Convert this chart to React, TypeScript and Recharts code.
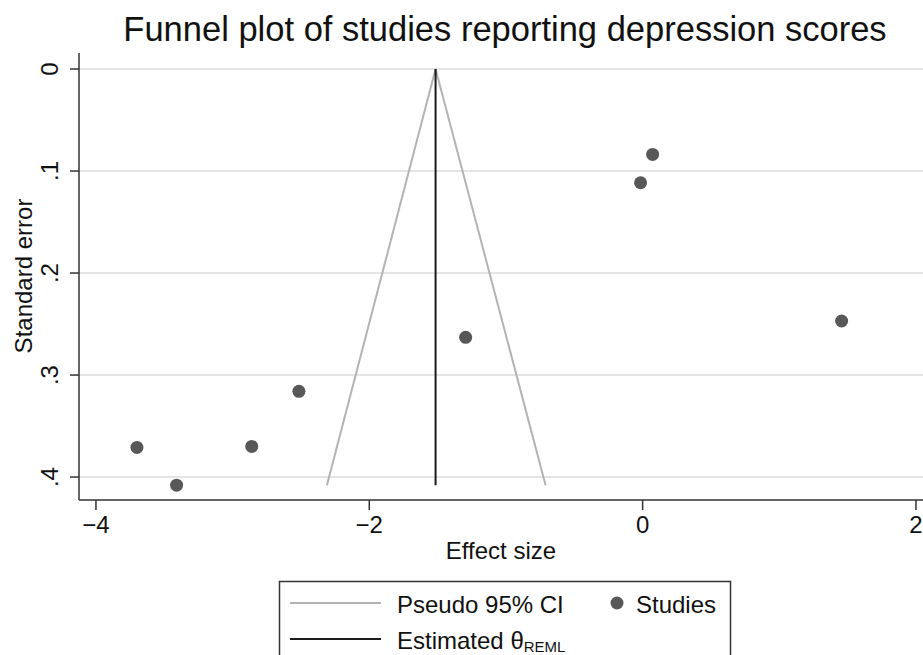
import { ComposedChart, Scatter, XAxis, YAxis, CartesianGrid, ReferenceLine } from 'recharts';

// study estimates
const effectSizes = [-3.7, -3.41, -2.86, -2.515, -1.295, -0.015, 0.073, 1.456];
const standardErrors = [0.371, 0.408, 0.37, 0.316, 0.263, 0.1115, 0.0837, 0.247];

const xTicks = [-4, -2, 0, 2];
const xTickLabels = ['\u22124', '\u22122', '0', '2'];
const yTicks = [0, 0.1, 0.2, 0.3, 0.4];
const yTickLabels = ['0', '.1', '.2', '.3', '.4'];

// pseudo 95% CI limits and pooled estimate
const thetaReml = -1.515;
const seMax = 0.408;
const ciLowerAtMax = -2.31;
const ciUpperAtMax = -0.71;

const FONT = '"Liberation Sans", Arial, Helvetica, sans-serif';
const W = 923;
const H = 655;

const studies = effectSizes.map((x, i) => ({ x, y: standardErrors[i] }));

function XTick({ x, y, payload }: any) {
  const i = xTicks.indexOf(payload.value);
  return (
    <text x={x} y={500 + 33} textAnchor="middle" fontSize={24} fontFamily={FONT} fill="#111">
      {xTickLabels[i]}
    </text>
  );
}

function YTick({ y, payload }: any) {
  const i = yTicks.indexOf(payload.value);
  const bx = 58;
  return (
    <text
      x={bx}
      y={y}
      transform={`rotate(-90, ${bx}, ${y})`}
      textAnchor="middle"
      fontSize={24}
      fontFamily={FONT}
      fill="#111"
    >
      {yTickLabels[i]}
    </text>
  );
}

function Dot(props: any) {
  return <circle cx={props.cx} cy={props.cy} r={6.5} fill="#585858" />;
}

export default function App() {
  return (
    <div style={{ position: 'absolute', left: 0, top: 0, width: W, height: H, overflow: 'hidden', background: '#fff' }}>
      <ComposedChart width={W} height={H} data={studies} margin={{ top: 53, right: 0, bottom: 145, left: 69 }}>
        <CartesianGrid vertical={false} stroke="#e4e4e4" strokeWidth={2} horizontalValues={yTicks} />
        <XAxis
          dataKey="x"
          type="number"
          domain={[-4.124, 2.0515]}
          allowDataOverflow
          ticks={xTicks}
          tick={<XTick />}
          tickSize={10}
          height={10}
          axisLine={{ stroke: '#333', strokeWidth: 1.5 }}
          tickLine={{ stroke: '#333', strokeWidth: 1.5 }}
        />
        <YAxis
          dataKey="y"
          type="number"
          reversed
          domain={[-0.0157, 0.4225]}
          allowDataOverflow
          ticks={yTicks}
          tick={<YTick />}
          tickSize={9}
          width={10}
          axisLine={{ stroke: '#333', strokeWidth: 1.5 }}
          tickLine={{ stroke: '#333', strokeWidth: 1.5 }}
        />
        <ReferenceLine
          segment={[{ x: thetaReml, y: 0 }, { x: ciLowerAtMax, y: seMax }]}
          stroke="#b3b3b3"
          strokeWidth={2}
        />
        <ReferenceLine
          segment={[{ x: thetaReml, y: 0 }, { x: ciUpperAtMax, y: seMax }]}
          stroke="#b3b3b3"
          strokeWidth={2}
        />
        <ReferenceLine
          segment={[{ x: thetaReml, y: 0 }, { x: thetaReml, y: seMax }]}
          stroke="#1a1a1a"
          strokeWidth={2}
        />
        <Scatter data={studies} dataKey="y" shape={<Dot />} isAnimationActive={false} />
      </ComposedChart>

      <svg width={W} height={H} style={{ position: 'absolute', left: 0, top: 0, pointerEvents: 'none' }}>
        <text x={505} y={41} textAnchor="middle" fontSize={34.5} fontFamily={FONT} fill="#111">
          Funnel plot of studies reporting depression scores
        </text>
        <text
          x={32}
          y={276}
          transform="rotate(-90, 32, 276)"
          textAnchor="middle"
          fontSize={24}
          fontFamily={FONT}
          fill="#111"
        >
          Standard error
        </text>
        <text x={501} y={559} textAnchor="middle" fontSize={24} fontFamily={FONT} fill="#111">
          Effect size
        </text>

        <rect x={279.5} y={581.5} width={451} height={100} fill="none" stroke="#333" strokeWidth={1.5} />
        <line x1={290} x2={381} y1={603} y2={603} stroke="#b3b3b3" strokeWidth={2} />
        <text x={397} y={613} fontSize={24} fontFamily={FONT} fill="#111">
          Pseudo 95% CI
        </text>
        <circle cx={617} cy={603} r={6.5} fill="#585858" />
        <text x={636} y={613} fontSize={24} fontFamily={FONT} fill="#111">
          Studies
        </text>
        <line x1={290} x2={381} y1={639} y2={639} stroke="#1a1a1a" strokeWidth={2} />
        <text x={397} y={649} fontSize={24} fontFamily={FONT} fill="#111">
          Estimated θ
          <tspan fontSize={15} dy={3}>
            REML
          </tspan>
        </text>
      </svg>
    </div>
  );
}
